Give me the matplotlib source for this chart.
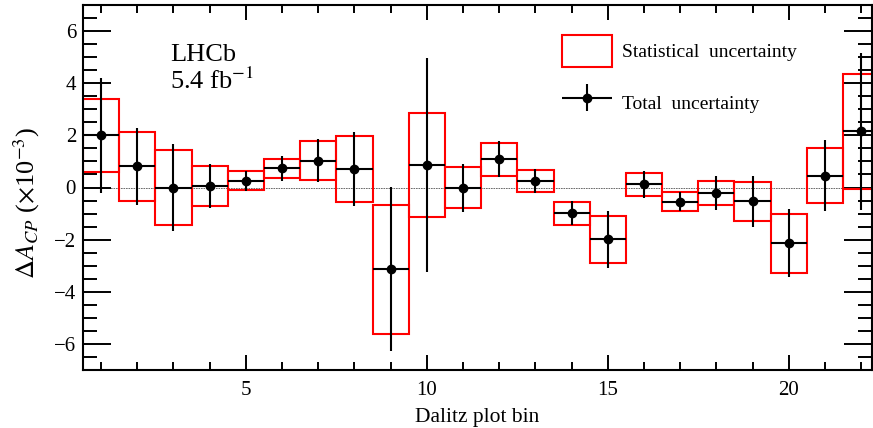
import matplotlib; matplotlib.use("Agg")
import matplotlib.pyplot as plt
from matplotlib.patches import Patch
from matplotlib.legend_handler import HandlerErrorbar
import numpy as np

plt.rcParams["font.family"] = ["Liberation Serif", "DejaVu Serif"]
plt.rcParams["mathtext.fontset"] = "stix"

# Dalitz plot bins, central values and uncertainties (x10^-3)
bins = np.arange(1, 23)
acp = [2.00, 0.81, 0.00, 0.05, 0.26, 0.73, 1.03, 0.71, -3.14, 0.85, -0.01,
       1.09, 0.26, -0.99, -1.99, 0.13, -0.54, -0.22, -0.53, -2.14, 0.46, 2.15]
stat = [1.41, 1.33, 1.44, 0.77, 0.37, 0.38, 0.74, 1.28, 2.48, 1.99, 0.78,
        0.63, 0.43, 0.44, 0.91, 0.44, 0.36, 0.46, 0.74, 1.14, 1.07, 2.21]
total = [2.20, 1.47, 1.65, 0.85, 0.38, 0.48, 0.83, 1.42, 3.15, 4.10, 0.93,
         0.69, 0.46, 0.46, 1.09, 0.52, 0.38, 0.65, 0.98, 1.30, 1.37, 3.01]

W, H = 873, 428
fig = plt.figure(figsize=(W/100, H/100), dpi=100)
ax = fig.add_axes([83/W, 58/H, 789/W, 365/H])

acp_a, stat_a = np.array(acp), np.array(stat)
ax.axhline(0, color="#555555", ls=(0, (2, 1)), lw=0.6, zorder=1)
ax.bar(bins, 2*stat_a, width=1.0, bottom=acp_a - stat_a, fill=False,
       edgecolor="red", lw=1.5, zorder=2)
eb = ax.errorbar(bins, acp, yerr=total, xerr=0.5, fmt="o", color="black",
                 ms=6, elinewidth=1.5, capsize=0, zorder=3)

ax.set_xlim(0.5, 22.3)
ax.set_ylim(-7, 7)
ax.set_xticks([5, 10, 15, 20])
ax.set_xticks(np.arange(1, 23), minor=True)
ax.set_yticks(np.arange(-6, 7, 2))
ax.set_yticks(np.arange(-7, 7.01, 0.5), minor=True)
ax.tick_params(which="both", direction="in", top=True, right=True, width=1.4, labelsize=15)
ax.tick_params(axis="x", which="major", length=11, pad=8)
ax.tick_params(axis="x", which="minor", length=6)
ax.tick_params(axis="y", which="major", length=20, pad=5)
ax.tick_params(axis="y", which="minor", length=10)
for s in ax.spines.values():
    s.set_linewidth(1.5)

ax.set_xlabel("Dalitz plot bin", fontsize=15.5, labelpad=6)
ax.set_ylabel(r"$\mathit{\Delta A}_{CP}$ ($\times$10$^{-3}$)", fontsize=19)
ax.yaxis.set_label_coords(-0.052, 0.457)

ax.text(0.110, 0.847, "LHCb", transform=ax.transAxes, fontsize=19, va="baseline")
ax.text(0.110, 0.770, r"5.4 fb$^{-1}$", transform=ax.transAxes, fontsize=19, va="baseline")

stat_patch = Patch(facecolor="none", edgecolor="red", lw=1.5)
ax.legend(handles=[stat_patch, eb], labels=["Statistical  uncertainty", "Total  uncertainty"],
          handler_map={type(eb): HandlerErrorbar(xerr_size=1.3, yerr_size=0.69)},
          loc="upper left", bbox_to_anchor=(0.607, 0.917), frameon=False, fontsize=14,
          borderpad=0, borderaxespad=0, handlelength=2.57, handleheight=2.15,
          labelspacing=1.0, handletextpad=0.5)

fig.savefig("out.png", dpi=100)
